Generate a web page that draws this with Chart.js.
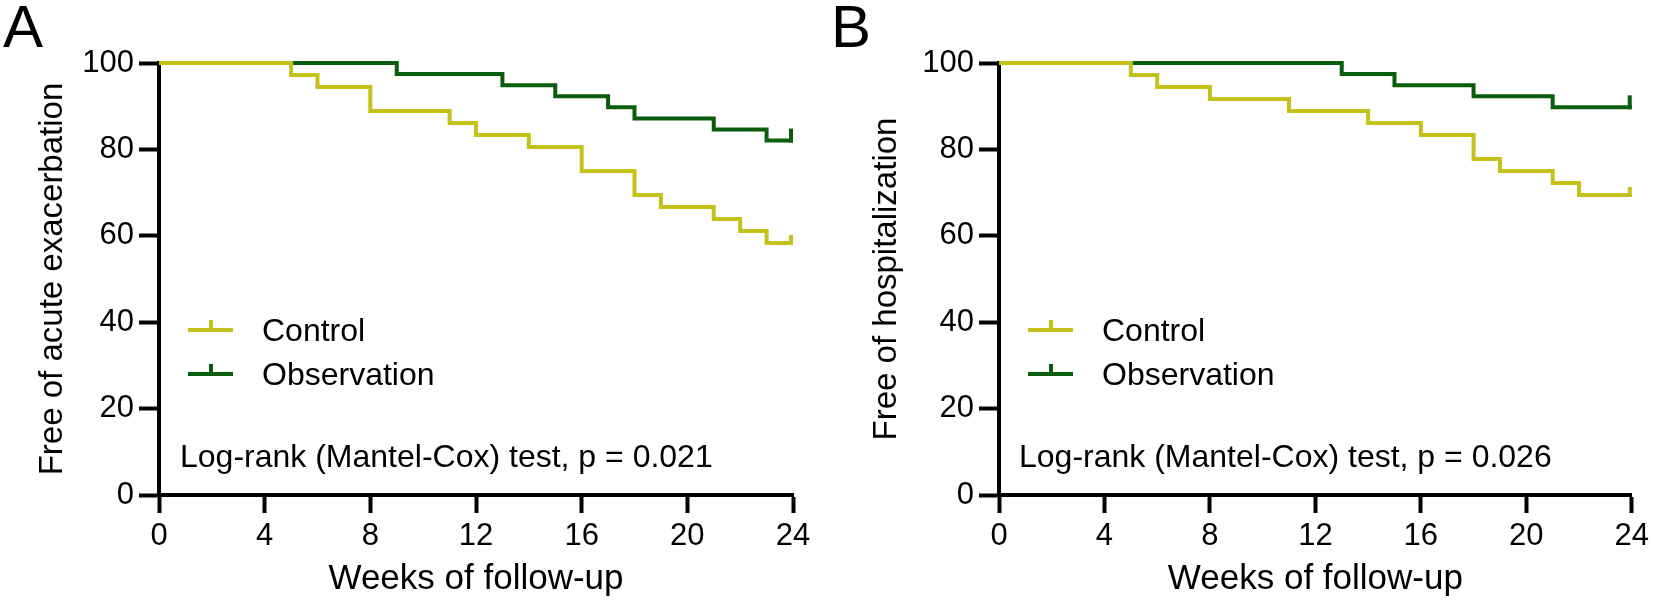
<!DOCTYPE html>
<html><head><meta charset="utf-8">
<script src="https://cdn.jsdelivr.net/npm/chart.js@4.4.1/dist/chart.umd.min.js"></script>
<style>
html,body{margin:0;padding:0;background:#fff;}
#wrap{position:relative;width:1654px;height:600px;overflow:hidden;font-family:"Liberation Sans",Arial,sans-serif;color:#000;}
.cv{position:absolute;top:0;height:600px;}
.txt{position:absolute;white-space:nowrap;font-size:32px;line-height:32px;}
.letter{position:absolute;font-size:60px;line-height:60px;}
.lg{position:absolute;height:4px;width:45px;}
.lg i{position:absolute;left:20.5px;bottom:0;width:4px;height:12px;}
</style></head>
<body>
<div id="wrap">
  <div class="cv" style="left:0;width:830px;"><canvas id="cA"></canvas></div>
  <div class="cv" style="left:800px;width:854px;"><canvas id="cB"></canvas></div>
  <div class="letter" id="lbA" style="left:3px;top:-3px;"></div>
  <div class="letter" id="lbB" style="left:831px;top:-3px;"></div>
  <div id="legA"></div>
  <div id="legB"></div>
</div>
<script>
// ---------- data ----------
const weekTicks = [0, 4, 8, 12, 16, 20, 24];
const pctTicks = [0, 20, 40, 60, 80, 100];
const seriesNames = ['Control', 'Observation'];

// Panel A: free of acute exacerbation (%)
const aControlWeeks = [0, 5, 6, 8, 11, 12, 14, 16, 18, 19, 21, 22, 23, 24];
const aControlPct   = [100, 97.22, 94.44, 88.89, 86.11, 83.33, 80.56, 75.00, 69.44, 66.67, 63.89, 61.11, 58.33, 58.33];
const aObsWeeks     = [0, 9, 13, 15, 17, 18, 21, 23, 24];
const aObsPct       = [100, 97.44, 94.87, 92.31, 89.74, 87.18, 84.62, 82.05, 82.05];

// Panel B: free of hospitalization (%)
const bControlWeeks = [0, 5, 6, 8, 11, 14, 16, 18, 19, 21, 22, 24];
const bControlPct   = [100, 97.22, 94.44, 91.67, 88.89, 86.11, 83.33, 77.78, 75.00, 72.22, 69.44, 69.44];
const bObsWeeks     = [0, 13, 15, 18, 21, 24];
const bObsPct       = [100, 97.44, 94.87, 92.31, 89.74, 89.74];

// censored observations (weeks)
const censorWeeks = [24];

const panelLabels = ['A', 'B'];
const yTitles = ['Free of acute exacerbation', 'Free of hospitalization'];
const xTitle = 'Weeks of follow-up';
const testLabels = ['Log-rank (Mantel-Cox) test, p = 0.021', 'Log-rank (Mantel-Cox) test, p = 0.026'];

// ---------- styles ----------
const COL_CTRL = '#c4c21a';
const COL_OBS = '#0b5d0e';
const FONT = '"Liberation Sans", Arial, sans-serif';

const censorPlugin = {
  id: 'censorTicks',
  afterDatasetsDraw(chart) {
    const {ctx, scales: {x, y}} = chart;
    chart.data.datasets.forEach(ds => {
      (ds.censor || []).forEach(t => {
        let lvl = ds.data[0].y;
        ds.data.forEach(p => { if (p.x <= t) lvl = p.y; });
        const bw = ds.borderWidth;
        const px = x.getPixelForValue(t) - bw / 2;
        const py = y.getPixelForValue(lvl);
        ctx.save();
        ctx.strokeStyle = ds.borderColor;
        ctx.lineWidth = bw;
        ctx.lineCap = 'butt';
        ctx.beginPath();
        ctx.moveTo(px, py + bw / 2);
        ctx.lineTo(px, py - ds.censorLen);
        ctx.stroke();
        ctx.restore();
      });
    });
  }
};

function pts(w, p) { return w.map((v, i) => ({x: v, y: p[i]})); }

function makeChart(id, cw, cp, ow, op, yTitle, yAxisWidth, yTitlePad, rightPad) {
  return new Chart(document.getElementById(id), {
    type: 'line',
    data: {
      datasets: [
        {label: seriesNames[0], data: pts(cw, cp), borderColor: COL_CTRL, borderWidth: 4, stepped: true,
         pointRadius: 0, fill: false, clip: false, censor: censorWeeks, censorLen: 8},
        {label: seriesNames[1], data: pts(ow, op), borderColor: COL_OBS, borderWidth: 4, stepped: true,
         pointRadius: 0, fill: false, clip: false, censor: censorWeeks, censorLen: 12}
      ]
    },
    options: {
      responsive: true, maintainAspectRatio: false, animation: false,
      devicePixelRatio: 1,
      layout: {padding: {top: 63, right: rightPad, bottom: 0, left: 0}},
      plugins: {legend: {display: false}, tooltip: {enabled: false}},
      scales: {
        x: {
          type: 'linear', min: 0, max: 24,
          afterBuildTicks: s => { s.ticks = weekTicks.map(v => ({value: v})); },
          afterFit: s => { s.height = 105; },
          ticks: {color: '#000', font: {family: FONT, size: 31, lineHeight: 1.2}, padding: 5, maxRotation: 0},
          grid: {drawOnChartArea: false, tickLength: 18, tickWidth: 4, tickColor: '#000'},
          border: {color: '#000', width: 4},
          title: {display: true, text: xTitle, color: '#000', font: {family: FONT, size: 35, lineHeight: 1.2}, padding: {top: 0, bottom: 0}}
        },
        y: {
          min: 0, max: 100,
          afterBuildTicks: s => { s.ticks = pctTicks.map(v => ({value: v})); },
          afterFit: s => { s.width = yAxisWidth; },
          ticks: {color: '#000', font: {family: FONT, size: 31, lineHeight: 1.2}, padding: 5},
          grid: {drawOnChartArea: false, tickLength: 20, tickWidth: 4, tickColor: '#000'},
          border: {color: '#000', width: 4},
          title: {display: true, text: yTitle, color: '#000', font: {family: FONT, size: 33, lineHeight: 1.2}, padding: {top: yTitlePad, bottom: 0}}
        }
      }
    },
    plugins: [censorPlugin]
  });
}

makeChart('cA', aControlWeeks, aControlPct, aObsWeeks, aObsPct, yTitles[0], 159, 33, 37);
makeChart('cB', bControlWeeks, bControlPct, bObsWeeks, bObsPct, yTitles[1], 199, 67, 20);

document.getElementById('lbA').textContent = panelLabels[0];
document.getElementById('lbB').textContent = panelLabels[1];

// ---------- overlays: legend and test text ----------
function overlay(containerId, axisX) {
  const c = document.getElementById(containerId);
  const rows = [{name: seriesNames[0], col: COL_CTRL, y: 330}, {name: seriesNames[1], col: COL_OBS, y: 374}];
  rows.forEach(r => {
    const l = document.createElement('div');
    l.className = 'lg';
    l.style.left = (axisX + 29) + 'px';
    l.style.top = (r.y - 2) + 'px';
    l.style.background = r.col;
    const t = document.createElement('i');
    t.style.background = r.col;
    l.appendChild(t);
    c.appendChild(l);
    const tx = document.createElement('div');
    tx.className = 'txt';
    tx.style.left = (axisX + 103) + 'px';
    tx.style.top = (r.y - 16) + 'px';
    tx.textContent = r.name;
    c.appendChild(tx);
  });
}
overlay('legA', 159);
overlay('legB', 999);
[[0, 180], [1, 1019]].forEach(([i, x]) => {
  const d = document.createElement('div');
  d.className = 'txt';
  d.style.left = x + 'px';
  d.style.top = '440px';
  d.textContent = testLabels[i];
  document.getElementById('wrap').appendChild(d);
});
</script>
</body></html>
